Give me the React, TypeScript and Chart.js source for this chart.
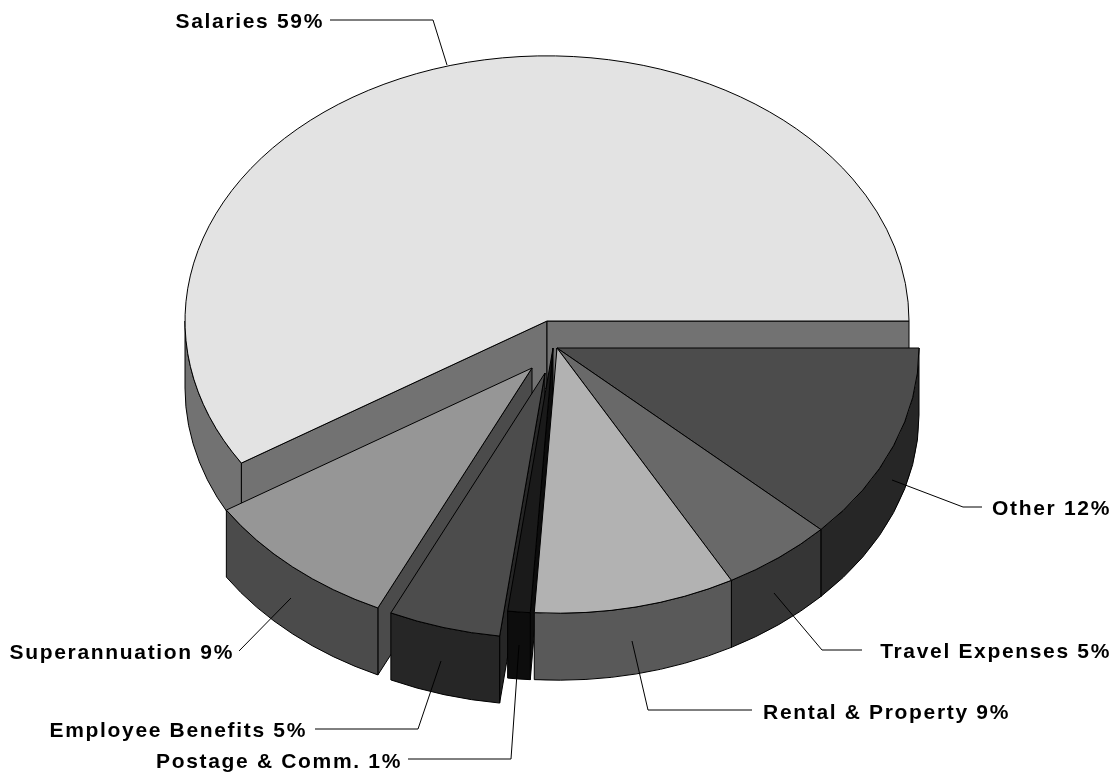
import React, { useEffect, useRef } from "react";
import { Chart, registerables } from "chart.js";

Chart.register(...registerables);

// Cost shares, clockwise from three o'clock
const categories = [
  "Other",
  "Travel Expenses",
  "Rental & Property",
  "Postage & Comm.",
  "Employee Benefits",
  "Superannuation",
  "Salaries",
];
const shares = [12, 5, 9, 1, 5, 9, 59];

const topColors = ["#4c4c4c", "#696969", "#b2b2b2", "#1a1a1a", "#4c4c4c", "#969696", "#e3e3e3"];
const sideColors = ["#262626", "#353535", "#595959", "#0d0d0d", "#262626", "#4b4b4b", "#727272"];

// Pull-out of each slice in pixels, and the order slices are painted back to front
const sliceShiftX = [10, 10, 10, 6, -2, -15, 0];
const sliceShiftY = [27, 27, 27, 27, 52, 47, 0];
const paintOrder = [6, 0, 1, 5, 4, 3, 2];

const TILT = 0.7325;
const DEPTH = 67;
const RADIUS = 362;

// Callout text placement: right edge, text centre, and the leader polyline
const calloutRight = [1111, 1111, 1010, 402, 307, 234, 324];
const calloutMiddle = [509, 652, 713, 762, 731, 653, 22];
const leaderX = [
  [892, 963, 982],
  [774, 822, 862],
  [632, 648, 752],
  [519, 511, 408],
  [441, 418, 315],
  [291, 239],
  [447, 433, 330],
];
const leaderY = [
  [480, 507, 507],
  [593, 650, 650],
  [641, 710, 710],
  [645, 759, 759],
  [661, 729, 729],
  [598, 651],
  [65, 20, 20],
];

const tiltedPie = {
  id: "tiltedPie",
  beforeDatasetsDraw(chart: any) {
    const ctx: CanvasRenderingContext2D = chart.ctx;
    const arcs = chart.getDatasetMeta(0).data;
    const TAU = Math.PI * 2;

    ctx.save();
    ctx.lineWidth = 1;
    ctx.lineJoin = "round";
    ctx.strokeStyle = "#000";

    for (const i of paintOrder) {
      const arc = arcs[i];
      const cx = arc.x + sliceShiftX[i];
      const cy = arc.y + sliceShiftY[i];
      const r = arc.outerRadius;
      const ry = r * TILT;
      const a = arc.startAngle;
      const b = arc.endAngle;
      const rim = (t: number) => [cx + Math.cos(t) * r, cy + Math.sin(t) * ry];

      ctx.fillStyle = sideColors[i];

      // Cut faces that turn toward the viewer
      const faces: number[] = [];
      if (Math.sin(a - Math.PI / 2) > 0) faces.push(a);
      if (Math.cos(b) > 0) faces.push(b);
      for (const t of faces) {
        const [x, y] = rim(t);
        ctx.beginPath();
        ctx.moveTo(cx, cy);
        ctx.lineTo(x, y);
        ctx.lineTo(x, y + DEPTH);
        ctx.lineTo(cx, cy + DEPTH);
        ctx.closePath();
        ctx.fill();
        ctx.stroke();
      }

      // Outer wall: only the front half of the rim shows
      const from = Math.max(a, 0);
      const to = Math.min(b, Math.PI);
      if (to > from) {
        ctx.beginPath();
        ctx.ellipse(cx, cy, r, ry, 0, from, to);
        ctx.ellipse(cx, cy + DEPTH, r, ry, 0, to, from, true);
        ctx.closePath();
        ctx.fill();
        ctx.stroke();
      }

      // Top surface
      ctx.fillStyle = topColors[i];
      ctx.beginPath();
      ctx.moveTo(cx, cy);
      ctx.ellipse(cx, cy, r, ry, 0, a, Math.min(b, a + TAU));
      ctx.closePath();
      ctx.fill();
      ctx.stroke();
    }

    // Callouts
    ctx.font = "bold 21px 'Liberation Sans', Arial, sans-serif";
    (ctx as any).letterSpacing = "1.67px";
    ctx.textAlign = "right";
    ctx.textBaseline = "middle";
    ctx.fillStyle = "#000";
    categories.forEach((name, i) => {
      const xs = leaderX[i];
      const ys = leaderY[i];
      ctx.beginPath();
      ctx.moveTo(xs[0], ys[0]);
      for (let k = 1; k < xs.length; k++) ctx.lineTo(xs[k], ys[k]);
      ctx.stroke();
      ctx.fillText(`${name} ${shares[i]}%`, calloutRight[i], calloutMiddle[i]);
    });
    ctx.restore();
    return false;
  },
};

export default function App() {
  const ref = useRef<HTMLCanvasElement | null>(null);

  useEffect(() => {
    const chart = new Chart(ref.current as HTMLCanvasElement, {
      type: "pie",
      data: {
        labels: categories,
        datasets: [{ data: shares, backgroundColor: topColors, borderWidth: 0 }],
      },
      options: {
        animation: false,
        responsive: false,
        rotation: 90,
        radius: RADIUS,
        layout: { padding: { left: 185, right: 210, top: 0, bottom: 134 } },
        plugins: { legend: { display: false }, tooltip: { enabled: false } },
      },
      plugins: [tiltedPie],
    } as any);
    return () => chart.destroy();
  }, []);

  return (
    <div style={{ position: "absolute", left: 0, top: 0, width: 1119, height: 776, background: "#fff" }}>
      <canvas ref={ref} width={1119} height={776} style={{ display: "block" }} />
    </div>
  );
}
